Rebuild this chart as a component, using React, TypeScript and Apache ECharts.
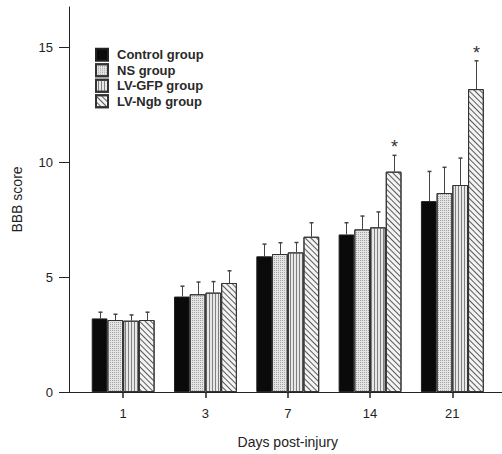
import React, { useEffect, useRef } from "react";
import * as echarts from "echarts";

const days = ["1", "3", "7", "14", "21"];
const seriesNames = ["Control group", "NS group", "LV-GFP group", "LV-Ngb group"];
const controlMean = [3.2, 4.15, 5.9, 6.85, 8.3];
const controlErr = [0.27, 0.45, 0.53, 0.51, 1.29];
const nsMean = [3.13, 4.25, 6.0, 7.07, 8.65];
const nsErr = [0.25, 0.53, 0.49, 0.58, 1.12];
const gfpMean = [3.1, 4.32, 6.07, 7.16, 9.0];
const gfpErr = [0.25, 0.48, 0.43, 0.67, 1.17];
const ngbMean = [3.13, 4.74, 6.75, 9.58, 13.17];
const ngbErr = [0.34, 0.53, 0.61, 0.71, 1.23];
const ngbSignificance = ["", "", "", "*", "*"];
const yTicks = [0, 5, 10, 15];

const FONT = "Liberation Sans, Arial, sans-serif";
const CAT_GAP = 0.236;

export default function App() {
  const ref = useRef<HTMLDivElement>(null);
  useEffect(() => {
    document.body.style.margin = "0";
    const chart = echarts.init(ref.current!, null, { renderer: "svg" });
    const means = [controlMean, nsMean, gfpMean, ngbMean];
    const errs = [controlErr, nsErr, gfpErr, ngbErr];
    const styles: any[] = [
      { color: "#0a0a0a", borderColor: "#222", borderWidth: 1 },
      {
        color: "#e4e4e4",
        borderColor: "#333",
        borderWidth: 1,
        decal: { symbol: "rect", symbolSize: 1, dashArrayX: [1, 1], dashArrayY: [1, 1], color: "#a4a4a4" },
      },
      {
        color: "#e8e8e8",
        borderColor: "#333",
        borderWidth: 1,
        decal: { symbol: "rect", symbolSize: 1, dashArrayX: [1, 0], dashArrayY: [1, 2], rotation: Math.PI / 2, color: "#808080" },
      },
      {
        color: "#f4f4f4",
        borderColor: "#333",
        borderWidth: 1,
        decal: { symbol: "rect", symbolSize: 1, dashArrayX: [1, 0], dashArrayY: [1, 2.5], rotation: Math.PI / 4, color: "#5a5a5a" },
      },
    ];
    const barSeries = seriesNames.map((name, k) => ({
      name,
      type: "bar",
      data: means[k],
      barGap: "0%",
      barCategoryGap: CAT_GAP * 100 + "%",
      itemStyle: styles[k],
      z: 2,
    }));
    const errSeries = seriesNames.map((name, k) => ({
      type: "custom",
      name: name + " err",
      z: 3,
      silent: true,
      data: days.map((_, i) => [i, means[k][i], errs[k][i]]),
      encode: { x: 0, y: 1 },
      renderItem: (params: any, api: any) => {
        const xi = api.value(0);
        const v = api.value(1);
        const e = api.value(2);
        const base = api.coord([xi, v]);
        const top = api.coord([xi, v + e]);
        const band = api.size([1, 0])[0];
        const groupW = band * (1 - CAT_GAP);
        const bw = groupW / 4;
        const x = Math.round(base[0] - groupW / 2 + bw * (k + 0.5)) + 0.5;
        const children: any[] = [
          { type: "line", shape: { x1: x, y1: base[1], x2: x, y2: top[1] }, style: { stroke: "#444", lineWidth: 1 } },
          { type: "line", shape: { x1: x - 2, y1: top[1], x2: x + 2, y2: top[1] }, style: { stroke: "#444", lineWidth: 1.5 } },
        ];
        if (k === 3 && ngbSignificance[params.dataIndex]) {
          children.push({
            type: "text",
            style: {
              text: ngbSignificance[params.dataIndex],
              x: x,
              y: top[1] + 1,
              align: "center",
              verticalAlign: "bottom",
              fontSize: 18,
              fontFamily: FONT,
              fill: "#333",
            },
          });
        }
        return { type: "group", children };
      },
    }));
    chart.setOption({
      animation: false,
      backgroundColor: "#fff",
      grid: { left: 82, right: 8.5, top: 7, bottom: 61.5 },
      legend: {
        data: seriesNames,
        orient: "vertical",
        left: 90,
        top: 42,
        itemWidth: 12,
        itemHeight: 12,
        itemGap: 0,
        icon: "rect",
        textStyle: { fontSize: 13, fontWeight: "bold", fontFamily: FONT, color: "#2a2a2a", lineHeight: 15.5, padding: [0, 0, 0, 4] },
      },
      xAxis: {
        type: "category",
        data: days,
        axisLine: { show: false },
        axisTick: { show: true, alignWithLabel: true, length: 6, lineStyle: { color: "#222", width: 1.5 } },
        axisLabel: { margin: 15, fontSize: 13, fontFamily: FONT, color: "#222" },
        name: "Days post-injury",
        nameLocation: "middle",
        nameGap: 43,
        nameTextStyle: { fontSize: 14, fontFamily: FONT, color: "#222" },
      },
      yAxis: {
        type: "value",
        min: 0,
        max: 16.74,
        offset: 13,
        axisLine: { show: true, lineStyle: { color: "#222", width: 1 } },
        axisTick: { show: true, length: 10, customValues: yTicks, lineStyle: { color: "#222" } },
        axisLabel: { margin: 16, fontSize: 13, fontFamily: FONT, color: "#222", customValues: yTicks },
        splitLine: { show: false },
        name: "BBB score",
        nameLocation: "middle",
        nameGap: 45,
        nameTextStyle: { fontSize: 14, fontFamily: FONT, color: "#222" },
      },
      graphic: [
        {
          type: "line",
          shape: { x1: 69, y1: 392.5, x2: 502, y2: 392.5 },
          style: { stroke: "#222", lineWidth: 1 },
          z: 10,
        },
      ],
      series: [...barSeries, ...errSeries],
    });
    return () => chart.dispose();
  }, []);
  return <div ref={ref} style={{ width: 502, height: 454 }} />;
}
